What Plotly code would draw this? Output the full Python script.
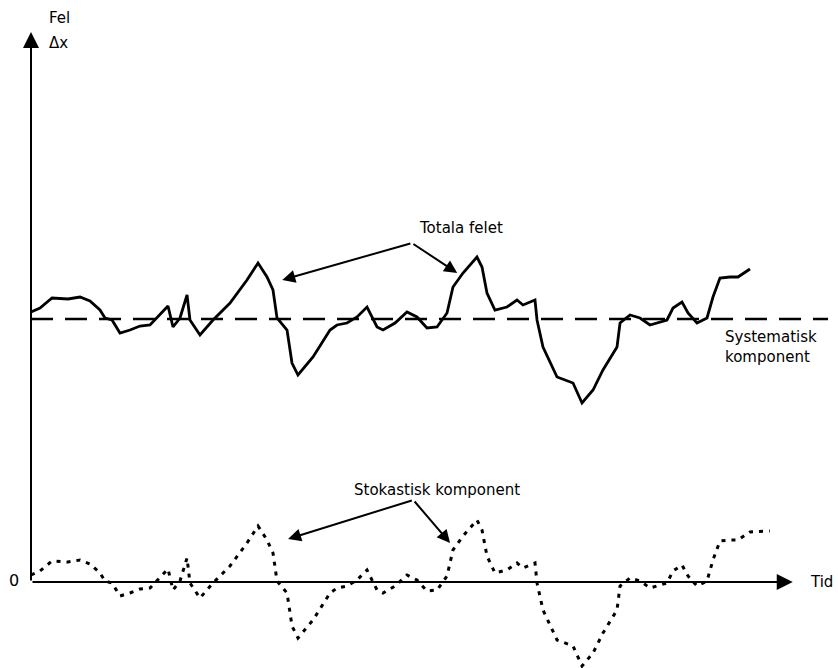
import plotly.graph_objects as go

# Time axis (arbitrary units) and error values
time = [0.0, 1.25, 2.92, 5.14, 6.81, 8.19, 9.58, 10.28, 11.25, 12.36, 13.75, 15.14,
        16.53, 17.92, 19.03, 19.72, 20.69, 21.67, 22.08, 23.47, 25.28, 27.64, 30.0,
        31.53, 32.78, 33.61, 34.17, 35.56, 36.25, 37.08, 39.17, 41.53, 42.5, 43.89,
        45.28, 46.67, 48.06, 48.89, 50.56, 52.22, 53.61, 55.0, 56.39, 57.78, 58.61,
        60.0, 61.94, 62.64, 63.33, 64.44, 66.11, 67.5, 68.33, 70.0, 70.28, 71.11,
        73.06, 75.28, 76.53, 78.06, 79.44, 81.39, 81.81, 83.19, 84.58, 85.97, 88.33,
        89.17, 90.42, 91.25, 92.5, 93.89, 94.72, 95.69, 97.08, 98.19, 99.86]

total_error = [27.0, 27.4, 28.4, 28.3, 28.5, 28.1, 27.2, 26.4, 26.2, 24.9, 25.2, 25.6,
               25.7, 26.7, 27.6, 25.5, 26.4, 28.7, 26.2, 24.7, 26.2, 27.9, 30.2,
               31.9, 30.5, 29.2, 26.4, 25.2, 21.9, 20.7, 22.5, 25.2, 25.7, 25.9,
               26.5, 27.5, 25.5, 25.2, 25.9, 27.0, 26.5, 25.4, 25.5, 26.9, 29.5,
               30.9, 32.5, 31.5, 28.9, 27.2, 27.5, 28.2, 27.7, 28.2, 26.2, 23.5,
               20.5, 19.9, 17.9, 19.2, 21.2, 23.5, 25.9, 26.7, 26.4, 25.7, 26.2,
               27.4, 28.0, 26.9, 25.9, 26.4, 28.5, 30.4, 30.5, 30.5, 31.3]

time_stoch = time + [102.6]
stochastic = [0.7, 1.1, 2.1, 2.0, 2.2, 1.8, 0.9, 0.1, -0.1, -1.4, -1.1, -0.7,
              -0.6, 0.4, 1.3, -0.8, 0.1, 2.4, -0.1, -1.6, -0.1, 1.6, 3.9,
              5.6, 4.2, 2.9, 0.1, -1.1, -4.4, -5.6, -3.8, -1.1, -0.6, -0.4,
              0.2, 1.2, -0.8, -1.1, -0.4, 0.7, 0.2, -0.9, -0.8, 0.6, 3.2,
              4.6, 6.2, 5.2, 2.6, 0.9, 1.2, 1.9, 1.4, 1.9, -0.1, -2.8,
              -5.8, -6.4, -8.4, -7.1, -5.1, -2.8, -0.4, 0.4, 0.1, -0.6, -0.1,
              1.1, 1.7, 0.6, -0.4, 0.1, 2.2, 4.1, 4.2, 4.2, 5.0, 5.1]

systematic_level = 26.3
systematic_time = [0.0, 110.7]

FONT = "DejaVu Sans"
ink = "black"

fig = go.Figure()

# Systematic component (dashed)
fig.add_trace(go.Scatter(x=systematic_time, y=[systematic_level, systematic_level],
                         mode="lines", line=dict(color=ink, width=2.5, dash="22px,12px"),
                         hoverinfo="skip", showlegend=False))
# Total error (solid)
fig.add_trace(go.Scatter(x=time, y=total_error, mode="lines",
                         line=dict(color=ink, width=2.8), hoverinfo="skip", showlegend=False))
# Stochastic component (dotted)
fig.add_trace(go.Scatter(x=time_stoch, y=stochastic, mode="lines",
                         line=dict(color=ink, width=3, dash="4px,6px"),
                         hoverinfo="skip", showlegend=False))

# Axes drawn as arrows
fig.add_annotation(x=105.8, y=0, ax=0, ay=0, axref="x", ayref="y", xref="x", yref="y",
                   showarrow=True, arrowhead=2, arrowsize=1.6, arrowwidth=2,
                   arrowcolor=ink, standoff=0, text="")
fig.add_annotation(x=0, y=55.0, ax=0, ay=0, axref="x", ayref="y", xref="x", yref="y",
                   showarrow=True, arrowhead=2, arrowsize=1.6, arrowwidth=2,
                   arrowcolor=ink, standoff=0, text="")

# Pointer arrows
for tip, tail in [((34.9, 30.2), (52.9, 33.9)), ((59.2, 30.9), (52.9, 33.9)),
                  ((35.7, 4.3), (53.1, 8.2)), ((58.2, 3.9), (53.1, 8.2))]:
    fig.add_annotation(x=tip[0], y=tip[1], ax=tail[0], ay=tail[1], axref="x", ayref="y",
                       xref="x", yref="y", showarrow=True, arrowhead=2, arrowsize=1.3,
                       arrowwidth=2, arrowcolor=ink, standoff=0, text="")

def label(x, y, text, xanchor="center", yanchor="middle", size=16, align="left"):
    fig.add_annotation(x=x, y=y, xref="x", yref="y", text=text, showarrow=False,
                       xanchor=xanchor, yanchor=yanchor, align=align,
                       font=dict(family=FONT, size=size, color=ink))

label(2.2, 56.4, "Fel", xanchor="left", size=15)
label(2.2, 53.9, "Δx", xanchor="left", size=15)
label(59.7, 35.4, "Totala felet", size=15)
label(56.4, 9.2, "Stokastisk komponent", size=15)
label(96.1, 25.6, "Systematisk<br>komponent", xanchor="left", yanchor="top", size=15)
label(107.9, 0, "Tid", xanchor="left", size=15)
label(-2.4, 0.2, "0", size=16)

fig.update_layout(
    width=838, height=668,
    margin=dict(l=0, r=0, t=0, b=0),
    paper_bgcolor="white", plot_bgcolor="white",
    xaxis=dict(range=[-31 / 7.2, (838 - 31) / 7.2], visible=False, showgrid=False, zeroline=False),
    yaxis=dict(range=[(582 - 668) / 10, 582 / 10], visible=False, showgrid=False, zeroline=False),
)

fig.write_html("out.html", config={"displayModeBar": False, "staticPlot": True},
               post_script="document.body.style.margin='0';document.body.style.overflow='hidden';")
